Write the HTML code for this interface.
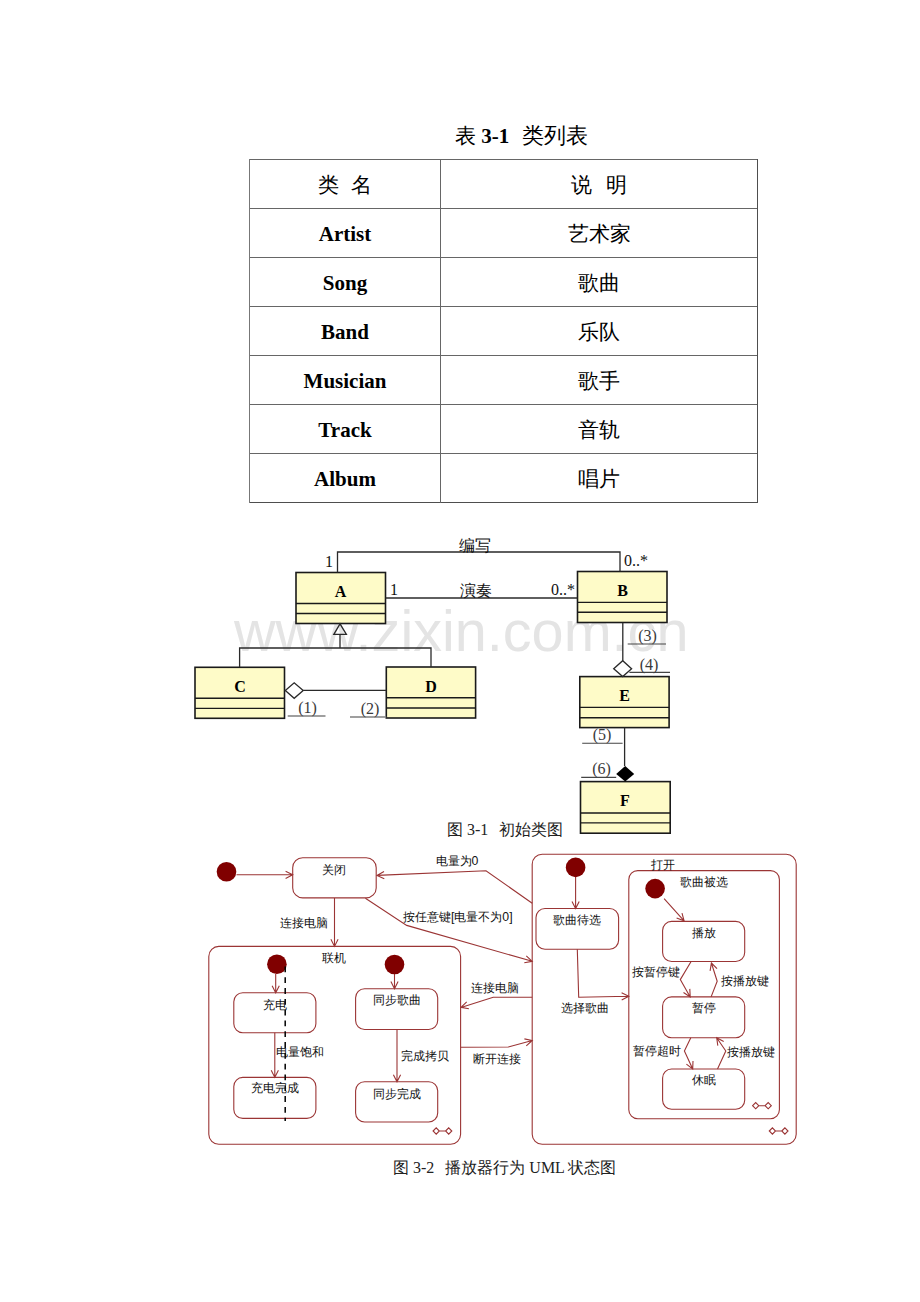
<!DOCTYPE html>
<html><head><meta charset="utf-8">
<style>
html,body{margin:0;padding:0;background:#fff;}
body{width:920px;height:1302px;position:relative;overflow:hidden;font-family:"Liberation Serif",serif;color:#000;}
.a{position:absolute;white-space:nowrap;}
.hl{position:absolute;height:1px;background:#666;}
.vl{position:absolute;width:1px;background:#666;}
.cell{position:absolute;text-align:center;font-size:21px;line-height:49px;height:49px;}
.b{font-weight:bold;}
svg{position:absolute;left:0;top:0;}
</style></head><body>

<!-- Title -->
<div class="a" style="left:455px;top:122.5px;font-size:21px;line-height:26px;">表 <b>3-1</b><span style="display:inline-block;width:12.5px"></span><span style="font-size:22px">类列表</span></div>

<!-- Table lines -->
<div class="hl" style="left:249px;top:159px;width:509px;"></div>
<div class="hl" style="left:249px;top:208px;width:509px;"></div>
<div class="hl" style="left:249px;top:257px;width:509px;"></div>
<div class="hl" style="left:249px;top:306px;width:509px;"></div>
<div class="hl" style="left:249px;top:355px;width:509px;"></div>
<div class="hl" style="left:249px;top:404px;width:509px;"></div>
<div class="hl" style="left:249px;top:453px;width:509px;"></div>
<div class="hl" style="left:249px;top:502px;width:509px;background:#4e4e4e;"></div>
<div class="vl" style="left:249px;top:159px;height:344px;background:#777;"></div>
<div class="vl" style="left:440px;top:159px;height:344px;"></div>
<div class="vl" style="left:757px;top:159px;height:344px;background:#4e4e4e;"></div>

<!-- Table text -->
<div class="cell" style="left:250px;top:161px;width:190px;">类<span style="display:inline-block;width:12px"></span>名</div>
<div class="cell" style="left:441px;top:161px;width:316px;">说<span style="display:inline-block;width:14px"></span>明</div>
<div class="cell b" style="left:250px;top:210px;width:190px;">Artist</div>
<div class="cell" style="left:441px;top:210px;width:316px;">艺术家</div>
<div class="cell b" style="left:250px;top:259px;width:190px;">Song</div>
<div class="cell" style="left:441px;top:259px;width:316px;">歌曲</div>
<div class="cell b" style="left:250px;top:308px;width:190px;">Band</div>
<div class="cell" style="left:441px;top:308px;width:316px;">乐队</div>
<div class="cell b" style="left:250px;top:357px;width:190px;">Musician</div>
<div class="cell" style="left:441px;top:357px;width:316px;">歌手</div>
<div class="cell b" style="left:250px;top:406px;width:190px;">Track</div>
<div class="cell" style="left:441px;top:406px;width:316px;">音轨</div>
<div class="cell b" style="left:250px;top:455px;width:190px;">Album</div>
<div class="cell" style="left:441px;top:455px;width:316px;">唱片</div>

<!-- CLASS DIAGRAM -->
<svg width="920" height="1302" viewBox="0 0 920 1302" style="font-family:'Liberation Serif',serif;">
<text x="234" y="650.6" font-family="'Liberation Sans',sans-serif" font-size="57.6" fill="#e4e4e4">www.zixin.com.cn</text>
<g fill="#fefbc8" stroke="#1a1a1a" stroke-width="1.6">
  <rect x="296" y="572.5" width="89.5" height="51"/>
  <rect x="577.5" y="571.5" width="89.5" height="51"/>
  <rect x="195" y="667.3" width="89.5" height="51"/>
  <rect x="386.3" y="667" width="89.3" height="51"/>
  <rect x="579.8" y="676.6" width="89.3" height="51"/>
  <rect x="580.5" y="781.6" width="89.7" height="51.6"/>
</g>
<g stroke="#1a1a1a" stroke-width="1.4">
  <path d="M296 603.5H385.5M296 613.5H385.5"/>
  <path d="M577.5 602.4H667M577.5 612.2H667"/>
  <path d="M195 698.3H284.5M195 708.4H284.5"/>
  <path d="M386.3 697.8H475.6M386.3 708H475.6"/>
  <path d="M579.8 707.4H669.1M579.8 717.8H669.1"/>
  <path d="M580.5 813H670.2M580.5 822.9H670.2"/>
</g>
<g fill="none" stroke="#2a2a2a" stroke-width="1.3">
  <path d="M337.5 572.5V552H620V571.5"/>
  <path d="M385.5 598H577.5"/>
  <path d="M340 634.3V648M239.6 667.3V648H431V667"/>
  <path d="M340 623.8L333.8 634.3H346.4Z"/>
  <path d="M303.2 690.4H386.3"/>
  <path d="M285.3 690.4L294.2 682.8L303.2 690.4L294.2 698.3Z"/>
  <path d="M622.8 622.7V660.7"/>
  <path d="M613.7 668.8L622.7 660.7L631.6 668.8L622.7 676.6Z"/>
  <path d="M624.6 727.7V766"/>
</g>
<path d="M616.2 773.9L625.2 766L634.2 773.9L625.2 781.6Z" fill="#000"/>
<g stroke="#808080" stroke-width="1.6">
  <path d="M287.7 716H325.5M350 717H386.3"/>
</g>
<g stroke="#444" stroke-width="1.1">
  <path d="M627.7 644H666M629.4 672.4H670"/>
  <path d="M582.2 743.2H622.6M581.2 777.4H616.2"/>
</g>
<g font-size="16" font-weight="bold" text-anchor="middle">
  <text x="340.6" y="597">A</text>
  <text x="622.5" y="596">B</text>
  <text x="240" y="691.5">C</text>
  <text x="431" y="691.5">D</text>
  <text x="624.5" y="701">E</text>
  <text x="625" y="806">F</text>
</g>
<g font-size="16" fill="#111">
  <text x="325" y="567">1</text>
  <text x="624" y="566">0..*</text>
  <text x="390" y="595">1</text>
  <text x="551" y="595">0..*</text>
  <text x="458.5" y="551">编写</text>
  <text x="459.5" y="596">演奏</text>
</g>
<g font-size="16" fill="#3a3a3a" text-anchor="middle">
  <text x="307.5" y="712.5">(1)</text>
  <text x="370" y="713.5">(2)</text>
  <text x="647.5" y="640.5">(3)</text>
  <text x="649" y="669.5">(4)</text>
  <text x="602" y="739.5">(5)</text>
  <text x="601.5" y="774">(6)</text>
</g>
</svg>

<div class="a" style="left:447px;top:819.5px;font-size:16px;line-height:20px;color:#222;">图 3-1<span style="display:inline-block;width:11px"></span>初始类图</div>

<!-- STATE DIAGRAM -->
<svg width="920" height="1302" viewBox="0 0 920 1302" style="font-family:'Liberation Sans',sans-serif;">
<g fill="none" stroke="#9b3535" stroke-width="1.1">
<rect x="292.7" y="857.8" width="83.5" height="40.1" rx="10" ry="10"/>
<rect x="208.8" y="946.4" width="251.8" height="197.9" rx="10" ry="10"/>
<rect x="233.8" y="992.8" width="82.1" height="39.9" rx="9" ry="9"/>
<rect x="233.8" y="1077.4" width="82.1" height="41.0" rx="9" ry="9"/>
<rect x="355.6" y="988.7" width="82.1" height="40.8" rx="9" ry="9"/>
<rect x="355.6" y="1081.8" width="82.1" height="40.2" rx="9" ry="9"/>
<rect x="532.2" y="854.2" width="264.0" height="290.1" rx="10" ry="10"/>
<rect x="536" y="908.5" width="82.6" height="40.7" rx="9" ry="9"/>
<rect x="628.8" y="870.6" width="150.6" height="248.2" rx="9" ry="9"/>
<rect x="662.6" y="921.4" width="82.1" height="40.1" rx="9" ry="9"/>
<rect x="662.6" y="996.9" width="82.1" height="40.9" rx="9" ry="9"/>
<rect x="662.6" y="1069" width="82.1" height="40.3" rx="9" ry="9"/>
<path d="M433.09999999999997 1131L436.2 1127.9L439.3 1131L436.2 1134.1Z M445.59999999999997 1131L448.7 1127.9L451.8 1131L448.7 1134.1Z M439.3 1131H445.59999999999997"/>
<path d="M752.5999999999999 1105.7L755.6999999999999 1102.6000000000001L758.8 1105.7L755.6999999999999 1108.8Z M765.0999999999999 1105.7L768.1999999999999 1102.6000000000001L771.3 1105.7L768.1999999999999 1108.8Z M758.8 1105.7H765.0999999999999"/>
<path d="M769.3 1131L772.4 1127.9L775.5 1131L772.4 1134.1Z M781.8 1131L784.9 1127.9L788.0 1131L784.9 1134.1Z M775.5 1131H781.8"/>
<path d="M236.5 874.8 L292.7 874.8 M285.6 871.2 L292.7 874.8 L285.6 878.4"/>
<path d="M334.5 897.9 L334.5 946.4 M338.1 939.3 L334.5 946.4 L330.9 939.3"/>
<path d="M532.2 903.3 L486 870.7 L377 875.4 M384.3 878.7 L377 875.4 L384.0 871.5"/>
<path d="M365.4 898.3 L406.7 925.4 L532.2 961.3 M526.3 955.8 L532.2 961.3 L524.3 962.8"/>
<path d="M275.7 974 L275.7 992.8 M279.3 985.7 L275.7 992.8 L272.1 985.7"/>
<path d="M274.8 1032.7 L274.8 1077.4 M278.4 1070.3 L274.8 1077.4 L271.2 1070.3"/>
<path d="M394.5 974 L394.5 988.7 M398.1 981.6 L394.5 988.7 L390.9 981.6"/>
<path d="M397 1029.5 L397 1081.8 M400.6 1074.7 L397 1081.8 L393.4 1074.7"/>
<path d="M532.2 997.3 L493.2 997.3 L461 1007.4 M468.9 1008.7 L461 1007.4 L466.7 1001.8"/>
<path d="M460.6 1047.3 L508.3 1047 L532.2 1040.5 M524.4 1038.9 L532.2 1040.5 L526.3 1045.9"/>
<path d="M575.6 877 L575.6 908.5 M579.2 901.4 L575.6 908.5 L572.0 901.4"/>
<path d="M577.3 949.2 L578.7 997.3 L628.8 996.3 M621.6 992.8 L628.8 996.3 L621.7 1000.1"/>
<path d="M664.1 898.7 L684.1 920.8 M682.0 913.1 L684.1 920.8 L676.6 918.0"/>
<path d="M691.1 961.5 L680.3 979.6 L690.2 996.9 M689.8 988.9 L690.2 996.9 L683.5 992.5"/>
<path d="M711.1 996.9 L717.2 981.3 L711.4 963 M710.1 970.9 L711.4 963 L717.0 968.7"/>
<path d="M690.8 1037.8 L684.4 1051.1 L692.7 1069 M693.0 1061.0 L692.7 1069 L686.4 1064.1"/>
<path d="M717.5 1069 L725.8 1051 L716.7 1037.8 M717.8 1045.7 L716.7 1037.8 L723.7 1041.6"/>
</g>
<circle cx="226.5" cy="871.7" r="9.8" fill="#800000" stroke="none"/>
<circle cx="276.9" cy="964.3" r="9.8" fill="#800000" stroke="none"/>
<circle cx="394.5" cy="964.5" r="9.8" fill="#800000" stroke="none"/>
<circle cx="575.6" cy="867.4" r="9.8" fill="#800000" stroke="none"/>
<circle cx="655.1" cy="888.6" r="9.8" fill="#800000" stroke="none"/>
<path d="M285.2 966.5V1121" stroke="#000" stroke-width="1.5" stroke-dasharray="5.8 5"/>
<g font-size="12.3" fill="#111">
<text x="334" y="873.5" text-anchor="middle">关闭</text>
<text x="333.5" y="961.5" text-anchor="middle">联机</text>
<text x="275" y="1008.5" text-anchor="middle">充电</text>
<text x="275" y="1092" text-anchor="middle">充电完成</text>
<text x="396.7" y="1004" text-anchor="middle">同步歌曲</text>
<text x="396.7" y="1098" text-anchor="middle">同步完成</text>
<text x="663.4" y="869" text-anchor="middle">打开</text>
<text x="576.7" y="924.4" text-anchor="middle">歌曲待选</text>
<text x="703.6" y="886" text-anchor="middle">歌曲被选</text>
<text x="703.6" y="937" text-anchor="middle">播放</text>
<text x="703.6" y="1012" text-anchor="middle">暂停</text>
<text x="703.6" y="1084" text-anchor="middle">休眠</text>
<text x="304.2" y="927.2" text-anchor="middle">连接电脑</text>
<text x="457" y="865" text-anchor="middle">电量为0</text>
<text x="457.8" y="921" text-anchor="middle">按任意键[电量不为0]</text>
<text x="299.7" y="1055.5" text-anchor="middle">电量饱和</text>
<text x="424.5" y="1059.8" text-anchor="middle">完成拷贝</text>
<text x="495.3" y="992" text-anchor="middle">连接电脑</text>
<text x="497.4" y="1063" text-anchor="middle">断开连接</text>
<text x="585" y="1011.8" text-anchor="middle">选择歌曲</text>
<text x="656.3" y="976" text-anchor="middle">按暂停键</text>
<text x="744.8" y="985.4" text-anchor="middle">按播放键</text>
<text x="657.3" y="1054.7" text-anchor="middle">暂停超时</text>
<text x="750.7" y="1055.5" text-anchor="middle">按播放键</text>
</g></svg>






<div class="a" style="left:393px;top:1157.5px;font-size:16px;line-height:20px;color:#222;">图 3-2<span style="display:inline-block;width:11px"></span>播放器行为 UML 状态图</div>

</body></html>
